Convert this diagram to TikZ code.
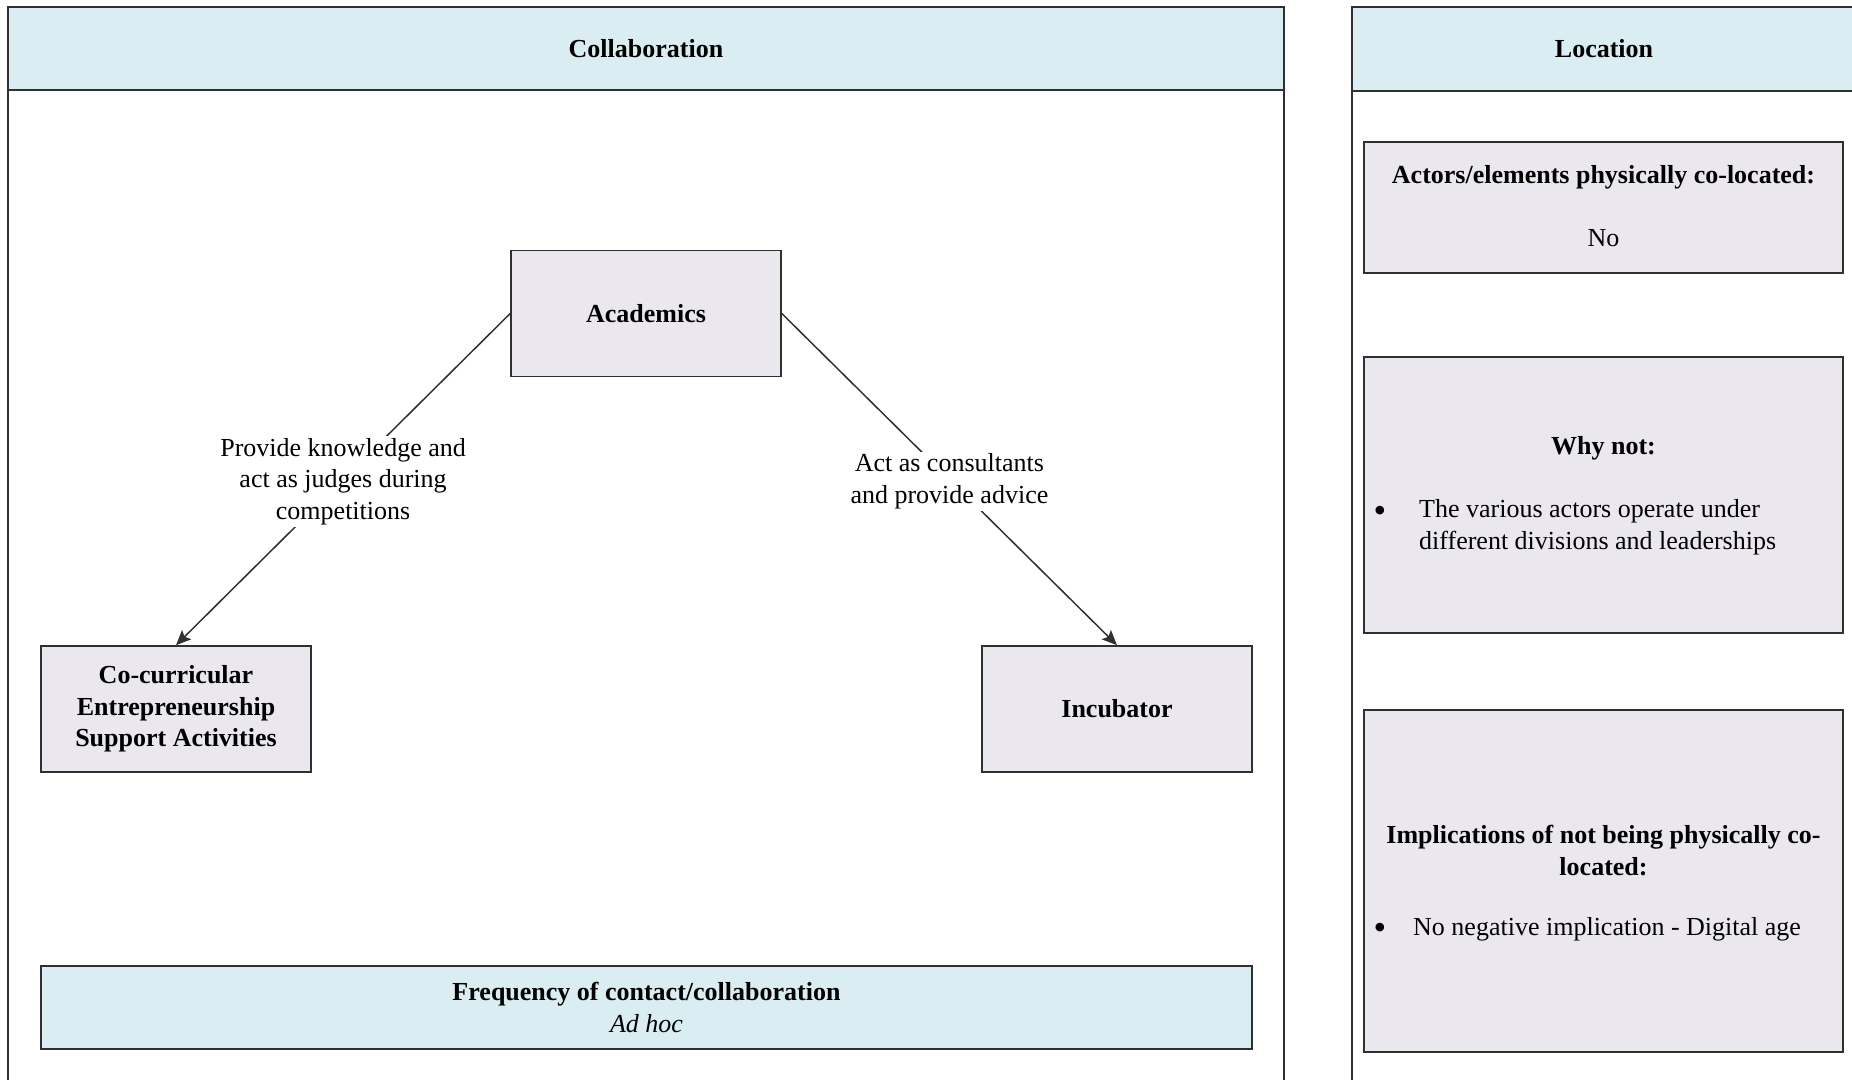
\documentclass[tikz,border=0pt]{standalone}
\usepackage{fontspec}
\setmainfont{Liberation Serif}
\usetikzlibrary{arrows.meta}
\definecolor{headblue}{HTML}{DAEDF2}
\definecolor{boxlav}{HTML}{EAE7EF}
\definecolor{linegray}{HTML}{303030}
\begin{document}
\begin{tikzpicture}[x=1pt,y=-1pt,
  txt/.style={font=\fontsize{26}{31.5}\selectfont, text=black, inner sep=0pt, align=center},
  btxt/.style={txt, font=\fontsize{26}{31.5}\selectfont\bfseries},
  frame/.style={draw=linegray, line width=1.6pt},
  header/.style={btxt, frame, fill=headblue},
  actor/.style={btxt, frame, fill=boxlav, minimum width=270pt, minimum height=126pt},
  infobox/.style={frame, fill=boxlav, minimum width=479pt, inner sep=0pt},
  bullet/.style={txt, font=\fontsize{36}{36}\selectfont},
  conn/.style={draw=linegray, line width=1.5pt, -{Stealth[length=15pt,width=13pt,inset=3pt]}},
  elabel/.style={txt, fill=white, inner sep=2pt, yshift=-2pt}
]
\useasboundingbox (0,0) rectangle (1852,1079);
\clip (0,0) rectangle (1852,1079);

% Collaboration panel
\draw[frame] (8,1100) -- (8,7) -- (1284,7) -- (1284,1100);
\node[header, minimum width=1276pt, minimum height=83pt] (collab) at (646,48.5) {Collaboration};

% Location panel
\draw[frame] (1352,1100) -- (1352,7) -- (1856,7);
\node[header, minimum width=504pt, minimum height=84pt] (loc) at (1604,49) {Location};

% Actors
\node[actor] (acad) at (646,313.5) {Academics};
\node[actor] (cocurr) at (176,709) {Co-curricular\\Entrepreneurship\\Support Activities};
\node[actor] (incub) at (1117,709) {Incubator};

% Relations
\draw[conn] (acad.west) -- node[elabel] (lbla) {Provide knowledge and\\act as judges during\\competitions} (cocurr.north);
\draw[conn] (acad.east) -- node[elabel] (lblb) {Act as consultants\\and provide advice} (incub.north);

% Frequency
\node[header, minimum width=1211pt, minimum height=83pt] (freq) at (646.5,1007.5)
  {Frequency of contact/collaboration\\\mdseries\itshape Ad hoc};

% Co-location box
\node[infobox, minimum height=131pt] (coloc) at (1603.5,207.5) {};
\node[btxt] (coloct) at (1603.5,177) {Actors/elements physically co-located:};
\node[txt] (colocv) at (1603.5,238) {No};

% Why not box
\node[infobox, minimum height=276pt] (whynot) at (1603.5,495) {};
\node[btxt] (whynott) at (1603.5,448) {Why not:};
\node[bullet] (whynotb) at (1380,514) {\textbullet};
\node[txt, anchor=west, align=left] (whynotv) at (1419,527)
  {The various actors operate under\\different divisions and leaderships};

% Implications box
\node[infobox, minimum height=342pt] (impl) at (1603.5,881) {};
\node[btxt] (implt) at (1603.5,850.5) {Implications of not being physically co-\\located:};
\node[bullet] (implb) at (1380,931) {\textbullet};
\node[txt, anchor=west] (implv) at (1413,929) {No negative implication - Digital age};
\end{tikzpicture}
\end{document}
